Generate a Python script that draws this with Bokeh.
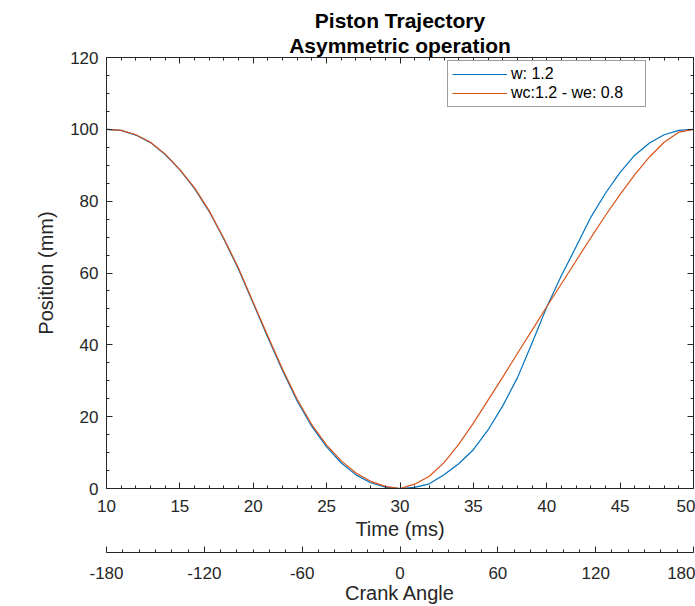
from bokeh.plotting import figure
from bokeh.models import (Range1d, LinearAxis, FixedTicker, Title, Legend, LegendItem,
                          PrintfTickFormatter, CustomJSTickFormatter)
from bokeh.embed import file_html
from bokeh.resources import INLINE

# ---------------- data ----------------
time_ms = [10, 11, 12, 13, 14, 15, 16, 17, 18, 19, 20, 21, 22, 23, 24, 25, 26, 27, 28, 29, 30,
           31, 32, 33, 34, 35, 36, 37, 38, 39, 40, 41, 42, 43, 44, 45, 46, 47, 48, 49, 50]
pos_w12 = [100, 99.7, 98.4, 96.3, 93.0, 88.7, 83.5, 77.1, 69.4, 61.0, 51.5, 42.0, 32.8, 24.3, 17.2,
           11.6, 7.1, 3.8, 1.6, 0.4, 0.0,
           0.3, 1.3, 3.8, 6.9, 10.8, 16.3, 23.0, 30.8, 40.5, 50.5, 59.3, 67.3, 75.5, 82.2, 88.0,
           92.8, 96.2, 98.5, 99.7, 100]
pos_asym = [100, 99.7, 98.5, 96.4, 93.1, 88.8, 83.7, 77.3, 69.6, 61.3, 51.8, 42.4, 33.2, 24.8, 17.7,
            12.1, 7.7, 4.3, 2.0, 0.6, 0.0,
            1.2, 3.4, 7.2, 12.3, 18.2, 24.6, 31.0, 37.6, 44.1, 50.6, 57.0, 63.4, 69.8, 76.0, 81.9,
            87.4, 92.3, 96.4, 99.2, 100]

time_ticks = [10, 15, 20, 25, 30, 35, 40, 45, 50]
time_minor = list(range(10, 51))
pos_ticks = [0, 20, 40, 60, 80, 100, 120]
pos_minor = list(range(0, 121, 5))
crank_ticks = [-180, -120, -60, 0, 60, 120, 180]
crank_minor = list(range(-180, 181, 10))

title1 = "Piston Trajectory"
title2 = "Asymmetric operation"
label_w = "w: 1.2"
label_asym = "wc:1.2 - we: 0.8"

FONT = "Liberation Sans"
AX = "#262626"
BLUE = "#0072BD"
ORANGE = "#D95319"


def style_axis(ax, ticks, minor, show_labels=True):
    ax.ticker = FixedTicker(ticks=ticks, minor_ticks=minor)
    ax.major_tick_in = 6
    ax.major_tick_out = 0
    ax.minor_tick_in = 3
    ax.minor_tick_out = 0
    ax.axis_line_color = AX
    ax.major_tick_line_color = AX
    ax.minor_tick_line_color = AX
    ax.axis_line_width = 1
    ax.major_label_text_font = FONT
    ax.major_label_text_color = AX
    ax.major_label_text_font_size = "17px"
    ax.axis_label_text_font = FONT
    ax.axis_label_text_font_style = "normal"
    ax.axis_label_text_color = AX
    ax.axis_label_text_font_size = "20px"
    if not show_labels:
        ax.formatter = CustomJSTickFormatter(code="return ''")
        ax.major_label_standoff = 0


p = figure(width=695, height=606, x_range=Range1d(10, 50), y_range=Range1d(0, 120),
           output_backend="svg", toolbar_location=None, title=None,
           min_border_left=106, min_border_right=2, min_border_top=57, min_border_bottom=118)
p.xgrid.visible = False
p.ygrid.visible = False
p.outline_line_color = None
p.background_fill_color = "white"
p.border_fill_color = "white"

# bottom time axis
xa = p.xaxis[0]
style_axis(xa, time_ticks, time_minor)
xa.axis_label = "Time (ms)"
xa.major_label_standoff = 11
xa.axis_label_standoff = 3

# left position axis
ya = p.yaxis[0]
style_axis(ya, pos_ticks, pos_minor)
ya.axis_label = "Position (mm)"
ya.major_label_standoff = 8
ya.axis_label_standoff = 10

# box axes (ticks only) on top and right
top = LinearAxis()
style_axis(top, time_ticks, time_minor, show_labels=False)
p.add_layout(top, "above")
right = LinearAxis()
style_axis(right, pos_ticks, pos_minor, show_labels=False)
p.add_layout(right, "right")

# small gap between the time axis and the crank-angle axis
gap = Title(text=".", text_font=FONT, text_font_size="4px", text_color="white",
            align="center", standoff=5)
p.add_layout(gap, "below")

# crank angle axis
p.extra_x_ranges = {"crank": Range1d(-180, 180)}
ca = LinearAxis(x_range_name="crank")
style_axis(ca, crank_ticks, crank_minor)
ca.formatter = PrintfTickFormatter(format="%d")
ca.axis_label = "Crank Angle"
ca.major_label_standoff = 14
ca.axis_label_standoff = 0
p.add_layout(ca, "below")

# titles
t2 = Title(text=title2, text_font=FONT, text_font_size="21px", text_font_style="bold",
           text_color="black", align="center", standoff=1)
t1 = Title(text=title1, text_font=FONT, text_font_size="21px", text_font_style="bold",
           text_color="black", align="center", standoff=0)
p.add_layout(t2, "above")
p.add_layout(t1, "above")

r1 = p.line(time_ms, pos_w12, line_color=BLUE, line_width=1.2)
r2 = p.line(time_ms, pos_asym, line_color=ORANGE, line_width=1.2)

legend = Legend(items=[LegendItem(label=label_w, renderers=[r1]),
                       LegendItem(label=label_asym, renderers=[r2])],
                location=(341, 381), orientation="vertical")
legend.label_text_font = FONT
legend.label_text_font_size = "16px"
legend.label_text_color = "black"
legend.glyph_width = 55
legend.glyph_height = 18
legend.label_height = 18
legend.label_width = 130
legend.label_standoff = 4
legend.padding = 4
legend.spacing = 1
legend.margin = 0
legend.border_line_color = "#3c3c3c"
legend.border_line_width = 1
legend.background_fill_color = "white"
legend.background_fill_alpha = 1
p.add_layout(legend, "center")

open("out.html", "w").write(file_html(p, INLINE))
